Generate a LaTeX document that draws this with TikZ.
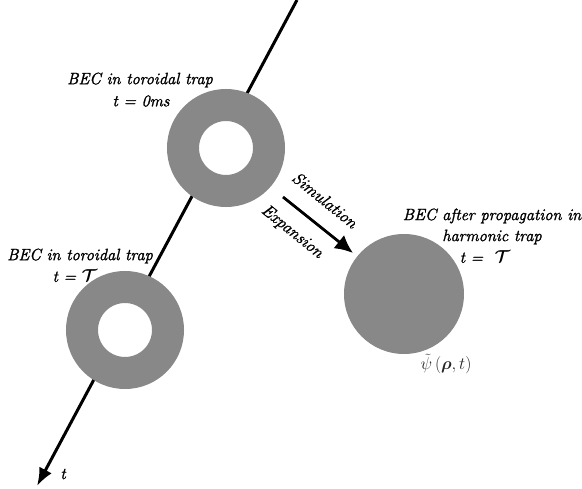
\documentclass[tikz,border=0pt]{standalone}
\usetikzlibrary{arrows.meta}
\usepackage{amsmath,bm}
\usepackage{fontspec}
\setmainfont{Latin Modern Roman}[ItalicFeatures={FakeBold=1.6}]
\definecolor{becgray}{RGB}{136,136,136}
\tikzset{
  ring/.style={circle, draw=becgray, line width=32pt, minimum size=86pt, inner sep=0pt, fill=white},
  disc/.style={circle, fill=becgray, minimum size=120pt, inner sep=0pt},
  lbl/.style={font=\fontsize{16.4}{18}\selectfont\itshape\boldmath, align=center, inner sep=0pt},
  axis/.style={line width=3pt, -{Latex[length=18pt,width=14pt]}},
  simarrow/.style={line width=2.8pt, -{Latex[length=18pt,width=17pt]}},
  rotlbl/.style={font=\fontsize{17}{18}\selectfont\itshape, inner sep=0pt, rotate=-39}
}
\begin{document}
\begin{tikzpicture}[x=1pt,y=1pt]
\useasboundingbox (0,0) rectangle (582,-489);
\coordinate (top) at (297,0);
\coordinate (bot) at (37,-486);
\draw[axis] (top) -- (bot);
\node[ring] (ring1) at (226,-148) {};
\node[ring] (ring2) at (125,-330) {};
\node[disc] (disc) at (404,-294) {};
\node[lbl] (l1a) at (140,-80) {BEC in toroidal trap};
\node[lbl] (l1b) at (141,-101) {t = 0ms};
\node[lbl] (l2a) at (80,-256) {BEC in toroidal trap};
\node[lbl] (l2b) at (75,-276) {t = $\mathcal{T}$};
\node[lbl] (l3a) at (492,-216) {BEC after propagation in};
\node[lbl] (l3b) at (492,-237) {harmonic trap};
\node[lbl] (l3c) at (485,-257) {t = \ $\mathcal{T}$};
\node[lbl] (tl) at (63,-474) {t};
\node[font=\fontsize{17}{19}\selectfont, text=black!85, inner sep=0pt] (psi) at (446,-364) {$\tilde\psi\,(\bm{\rho},t)$};
\coordinate (as) at (283,-197);
\coordinate (ae) at (353,-253);
\draw[simarrow] (as) -- (ae);
\node[rotlbl] (sim) at (325,-200) {Simulation};
\node[rotlbl] (exp) at (292,-232) {Expansion};
\end{tikzpicture}
\end{document}
